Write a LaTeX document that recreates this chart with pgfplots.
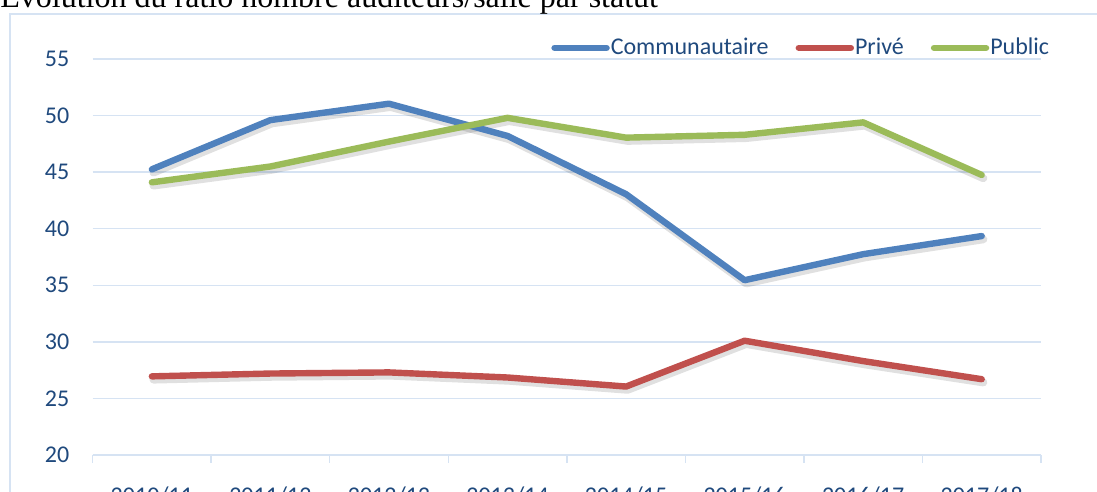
\documentclass[border=0pt]{standalone}
\usepackage{pgfplots}
\pgfplotsset{compat=1.18}
\usepackage{pgfplotstable}
\usepackage{fontspec}
\setmainfont{Carlito}
\newfontfamily\titlefont{Liberation Serif}
\definecolor{cBlue}{RGB}{79,129,189}
\definecolor{cRed}{RGB}{192,80,77}
\definecolor{cGreen}{RGB}{155,187,89}
\definecolor{gridc}{RGB}{214,227,243}
\definecolor{txt}{RGB}{31,73,125}

\pgfplotstableread{
x Comm Prive Public
0 45.25 26.95 44.1
1 49.6 27.2 45.5
2 51.05 27.3 47.7
3 48.2 26.85 49.8
4 43.05 26.05 48.05
5 35.45 30.1 48.3
6 37.75 28.3 49.4
7 39.35 26.7 44.75
}\datatable

\begin{document}
\begin{tikzpicture}
\useasboundingbox (-46.3bp,-18.5bp) rectangle (502.2bp,227.5bp);
\draw[gridc, line width=0.75bp] (-41.3bp,-40bp) rectangle (530bp,220.5bp);
\node[anchor=base west, inner sep=0pt, font=\titlefont\fontsize{16bp}{18bp}\selectfont] at (-46.3bp,223.7bp) {Évolution du ratio nombre auditeurs/salle par statut};
\begin{axis}[
  scale only axis,
  width=474.2bp, height=198bp,
  xmin=-0.5, xmax=7.5,
  ymin=20, ymax=55,
  ytick={20,25,...,55},
  xtick={0,...,7},
  xticklabels={2010/11,2011/12,2012/13,2013/14,2014/15,2015/16,2016/17,2017/18},
  minor xtick={-0.5,0.5,...,7.5},
  major tick length=0pt,
  minor tick length=4bp,
  xtick align=outside,
  axis x line*=bottom,
  axis y line*=left,
  x axis line style={draw=gridc, line width=0.75bp, -},
  y axis line style={draw=none},
  every tick/.style={draw=gridc, line width=0.75bp},
  ymajorgrids,
  grid style={draw=gridc, line width=0.75bp},
  tick label style={font=\fontsize{12bp}{14bp}\selectfont, text=txt},
  /pgf/number format/assume math mode=true,
  xticklabel style={anchor=north, inner sep=0pt, yshift=-15.5bp},
  yticklabel style={anchor=east, inner sep=0pt, xshift=-11.5bp},
  legend columns=3,
  legend style={draw=none, fill=none, inner sep=0pt, font=\fontsize{12bp}{14bp}\selectfont, text=txt,
    at={(0.4833,1.028)}, anchor=west,
    nodes={inner sep=0.5bp},
    /tikz/every even column/.append style={column sep=13bp}},
  legend image code/.code={\draw[line width=3.2bp, line cap=round, #1] (0bp,0bp) -- (26bp,0bp);},
  every axis plot/.append style={line width=3.2bp, line join=round, line cap=round, mark=none},
]
\addplot[black, opacity=0.12, line width=4bp, xshift=0.8bp, yshift=-1.6bp, forget plot] table[x=x, y=Comm] {\datatable};
\addplot[black, opacity=0.12, line width=4bp, xshift=0.8bp, yshift=-1.6bp, forget plot] table[x=x, y=Prive] {\datatable};
\addplot[black, opacity=0.12, line width=4bp, xshift=0.8bp, yshift=-1.6bp, forget plot] table[x=x, y=Public] {\datatable};
\addplot[cBlue] table[x=x, y=Comm] {\datatable};
\addlegendentry{Communautaire}
\addplot[cRed] table[x=x, y=Prive] {\datatable};
\addlegendentry{Privé}
\addplot[cGreen] table[x=x, y=Public] {\datatable};
\addlegendentry{Public}
\end{axis}
\end{tikzpicture}
\end{document}
